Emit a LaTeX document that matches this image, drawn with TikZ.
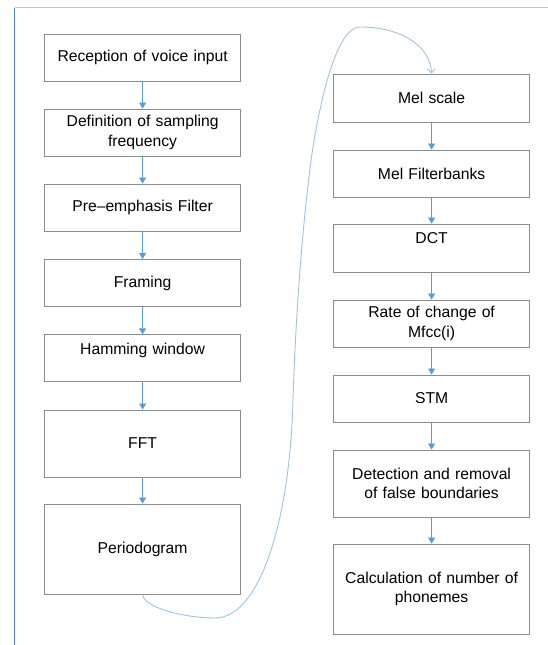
\documentclass[tikz,border=0pt]{standalone}
\usepackage{fontspec}
\setmainfont{Liberation Sans}
\usetikzlibrary{arrows.meta}
\definecolor{boxgray}{HTML}{8C8C8C}
\definecolor{arrowblue}{HTML}{5B9BD5}
\definecolor{curveblue}{HTML}{9DC3E6}
\definecolor{frameblue}{HTML}{4F81BD}
\definecolor{topblue}{HTML}{A9C8E8}
\begin{document}
\begin{tikzpicture}[x=1pt,y=-1pt,
  box/.style={draw=boxgray, line width=0.9pt, fill=white, minimum width=196pt,
    text width=190pt, inner sep=2pt, align=center,
    font=\fontsize{15.7}{19.5}\selectfont},
  flow/.style={draw=arrowblue, line width=0.8pt, -{Triangle[width=7pt,length=6pt]}},
  loopline/.style={draw=curveblue, line width=0.9pt, -{Straight Barb[width=8pt,length=4pt]}}]
\useasboundingbox (0,0) rectangle (548,645);
% frame lines
\draw[frameblue, line width=1.2pt] (14.7,645) -- (14.7,7.5);
\draw[topblue, line width=1pt] (14.7,7.5) -- (548,7.5);
% left column
\node[box, minimum height=47pt] (a1) at (142.6,57.5) {Reception of voice input};
\node[box, minimum height=47pt] (a2) at (142.6,132.5) {Definition of sampling\\frequency};
\node[box, minimum height=47pt] (a3) at (142.6,207.5) {Pre–emphasis Filter};
\node[box, minimum height=47pt] (a4) at (142.6,283) {Framing};
\node[box, minimum height=47pt] (a5) at (142.6,358.2) {Hamming window\\ \mbox{}};
\node[box, minimum height=67pt] (a6) at (142.6,443.5) {FFT};
\node[box, minimum height=90pt] (a7) at (142.6,549) {Periodogram};
% right column
\node[box, minimum height=48pt] (b1) at (431.6,98) {Mel scale};
\node[box, minimum height=47pt] (b2) at (431.6,173.5) {Mel Filterbanks};
\node[box, minimum height=48pt] (b3) at (431.6,248) {DCT\\ \mbox{}};
\node[box, minimum height=47pt] (b4) at (431.6,323.5) {Rate of change of\\Mfcc(i)};
\node[box, minimum height=47pt] (b5) at (431.6,398.5) {STM};
\node[box, minimum height=67pt] (b6) at (431.6,483.5) {Detection and removal\\of false boundaries};
\node[box, minimum height=90pt] (b7) at (431.6,589) {Calculation of number of\\phonemes};
% arrows
\draw[flow] (a1) -- (a2);
\draw[flow] (a2) -- (a3);
\draw[flow] (a3) -- (a4);
\draw[flow] (a4) -- (a5);
\draw[flow] (a5) -- (a6);
\draw[flow] (a6) -- (a7);
\draw[flow] (b1) -- (b2);
\draw[flow] (b2) -- (b3);
\draw[flow] (b3) -- (b4);
\draw[flow] (b4) -- (b5);
\draw[flow] (b5) -- (b6);
\draw[flow] (b6) -- (b7);
% connecting curve
\coordinate (k1) at (215,618);
\coordinate (k2) at (293,400);
\coordinate (k3) at (313,147);
\coordinate (k4) at (360,27);
\draw[loopline] (a7.south) .. controls (144,608) and (185,618) .. (k1)
  .. controls (260,618) and (290,520) .. (k2)
  .. controls (296,300) and (305,200) .. (k3)
  .. controls (324,80) and (340,27) .. (k4)
  .. controls (400,27) and (430,45) .. (b1.north);
\end{tikzpicture}
\end{document}
